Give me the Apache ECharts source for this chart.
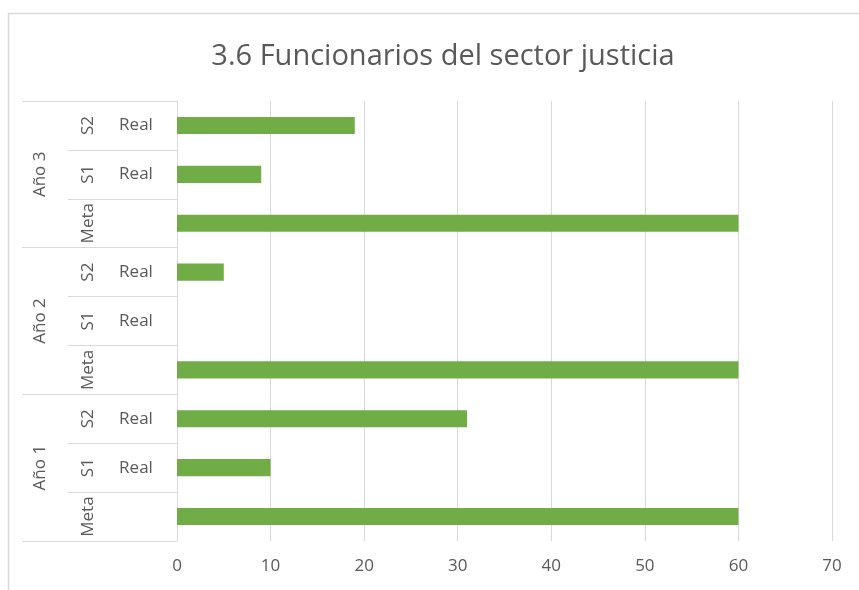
<!DOCTYPE html>
<html>
<head>
<meta charset="utf-8">
<script src="https://cdn.jsdelivr.net/npm/echarts@6/dist/echarts.min.js"></script>
<style>html,body{margin:0;padding:0;background:#fff;}#c{width:859px;height:590px;}</style>
</head>
<body>
<div id="c"></div>
<script>
// Data (bottom to top, as in the chart)
const groups = ['Año 1', 'Año 2', 'Año 3'];
const level2 = ['Meta', 'S1', 'S2', 'Meta', 'S1', 'S2', 'Meta', 'S1', 'S2'];
const level3 = ['', 'Real', 'Real', '', 'Real', 'Real', '', 'Real', 'Real'];
const values = [60, 10, 31, 60, 0, 5, 60, 9, 19];
const xTicks = [0, 10, 20, 30, 40, 50, 60, 70];
const titleText = '3.6 Funcionarios del sector justicia';

const keys = level2.map((l, i) => groups[Math.floor(i / 3)] + '|' + l + '|' + i);
const FONT = 'Open Sans';
const TXT = '#595959';
const LINE = '#d9d9d9';

const chart = echarts.init(document.getElementById('c'), null, {renderer: 'canvas'});
chart.setOption({
  animation: false,
  backgroundColor: '#fff',
  title: {
    text: titleText,
    left: 438, top: 37, textAlign: 'center',
    textStyle: {fontFamily: FONT, fontSize: 29, fontWeight: 'normal', color: TXT}
  },
  graphic: [{
    type: 'rect', silent: true, z: -1,
    shape: {x: 8.5, y: 13.5, width: 900, height: 700},
    style: {fill: 'none', stroke: LINE, lineWidth: 1.5}
  }],
  grid: {left: 177, right: 27, top: 101, bottom: 49, containLabel: false},
  xAxis: {
    type: 'value', min: xTicks[0], max: xTicks[xTicks.length - 1], interval: 10,
    axisLine: {show: false},
    axisTick: {show: false},
    splitLine: {show: true, lineStyle: {color: LINE, width: 1}},
    axisLabel: {margin: 17, fontFamily: FONT, fontSize: 17, color: TXT}
  },
  yAxis: [
    {
      type: 'category', data: keys, position: 'left', offset: 0,
      axisLine: {show: true, lineStyle: {color: LINE, width: 1}},
      axisTick: {show: true, interval: 0, length: 109, lineStyle: {color: LINE, width: 1}},
      axisLabel: {
        interval: 0, margin: 41, align: 'center', fontFamily: FONT, fontSize: 17, color: TXT,
        formatter: (v, i) => level3[i]
      }
    },
    {
      type: 'category', data: groups, position: 'left', offset: 0,
      axisLine: {show: false},
      axisTick: {show: true, interval: 0, length: 155, lineStyle: {color: LINE, width: 1}},
      axisLabel: {
        interval: 0, margin: 137, rotate: 90, align: 'center', verticalAlign: 'middle',
        fontFamily: FONT, fontSize: 17, color: TXT
      }
    },
    {
      type: 'category', data: keys, position: 'left', offset: 0,
      axisLine: {show: false},
      axisTick: {show: false},
      axisLabel: {
        interval: 0, hideOverlap: false, margin: 89, rotate: 90, align: 'center', verticalAlign: 'middle',
        fontFamily: FONT, fontSize: 17, color: TXT,
        formatter: (v, i) => level2[i]
      }
    }
  ],
  series: [{
    type: 'bar', yAxisIndex: 0,
    data: values,
    barWidth: '35%',
    itemStyle: {color: '#70AD47'}
  }]
});
</script>
</body>
</html>
